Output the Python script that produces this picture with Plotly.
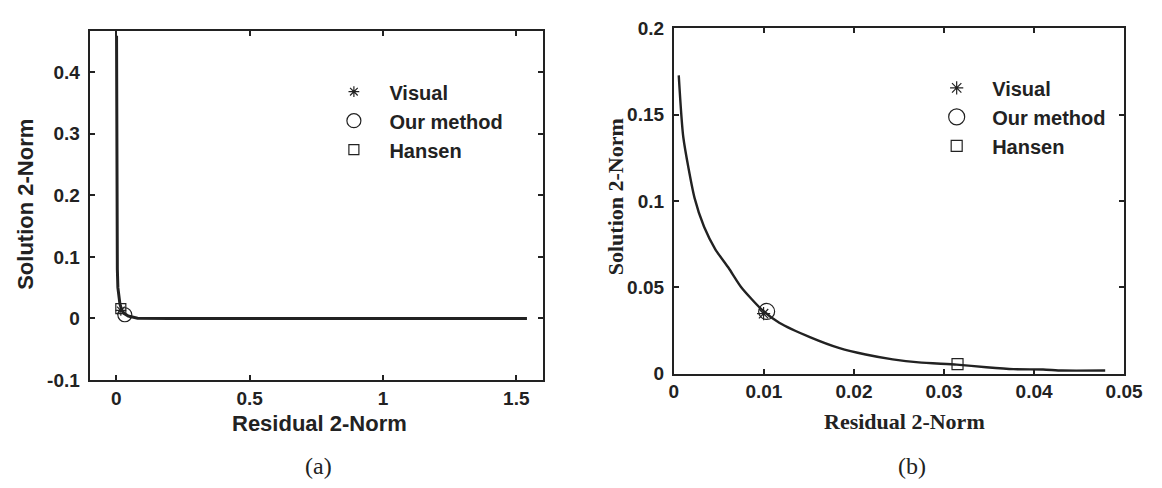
import plotly.graph_objects as go

W, H = 1162, 488

# ---------------- data: panel (a) ----------------
a_curve_x = [0.001, 0.0012, 0.0016, 0.0025, 0.004, 0.006, 0.009, 0.0135, 0.02, 0.03, 0.045, 0.06, 0.08, 0.2, 0.5, 1.0, 1.54]
a_curve_y = [0.459, 0.30, 0.20, 0.12, 0.08, 0.05, 0.035, 0.024, 0.014, 0.008, 0.004, 0.002, 0.0005, 0.0, 0.0, 0.0, 0.0]
a_visual = (0.017, 0.013)
a_ours = (0.032, 0.006)
a_hansen = (0.017, 0.016)
a_xticks = [0, 0.5, 1, 1.5]
a_xticktext = ["0", "0.5", "1", "1.5"]
a_yticks = [-0.1, 0, 0.1, 0.2, 0.3, 0.4]
a_yticktext = ["-0.1", "0", "0.1", "0.2", "0.3", "0.4"]

# ---------------- data: panel (b) ----------------
b_curve_x = [0.00054, 0.00105, 0.0023, 0.00335, 0.0046, 0.0061, 0.0075, 0.0098, 0.0117, 0.0151,
             0.0184, 0.0213, 0.0243, 0.0272, 0.0314, 0.0347, 0.0377, 0.041, 0.0431, 0.0479]
b_curve_y = [0.1727, 0.1367, 0.1016, 0.085, 0.072, 0.061, 0.0499, 0.0369, 0.0295, 0.0212,
             0.0148, 0.0111, 0.0083, 0.0065, 0.0052, 0.0037, 0.0026, 0.0024, 0.0018, 0.0018]
b_visual = (0.00996, 0.0347)
b_ours = (0.0103, 0.036)
b_hansen = (0.0315, 0.0055)
b_xticks = [0, 0.01, 0.02, 0.03, 0.04, 0.05]
b_xticktext = ["0", "0.01", "0.02", "0.03", "0.04", "0.05"]
b_yticks = [0, 0.05, 0.1, 0.15, 0.2]
b_yticktext = ["0", "0.05", "0.1", "0.15", "0.2"]

legend_names = ["Visual", "Our method", "Hansen"]

INK = "#222222"
SANS = "Liberation Sans"
SERIF = "Liberation Serif"


def px(x):
    return x / W


def py(y):
    return 1 - y / H


fig = go.Figure()

# panel (a)
fig.add_trace(go.Scatter(x=a_curve_x, y=a_curve_y, mode="lines", line=dict(color=INK, width=3),
                         showlegend=False, xaxis="x", yaxis="y", hoverinfo="skip"))
marker_specs = [
    ("asterisk-open", 9, 11),
    ("circle-open", 14, 16),
    ("square-open", 10, 11),
]
a_pts = [a_visual, a_ours, a_hansen]
b_pts = [b_visual, b_ours, b_hansen]
for (sym, sa, sb), name, p in zip(marker_specs, legend_names, a_pts):
    fig.add_trace(go.Scatter(x=[p[0]], y=[p[1]], mode="markers", name=name,
                             marker=dict(symbol=sym, size=sa, color=INK, line=dict(color=INK, width=1.2)),
                             xaxis="x", yaxis="y", legend="legend", legendgroup="a" + name))
# panel (b)
fig.add_trace(go.Scatter(x=b_curve_x, y=b_curve_y, mode="lines", line=dict(color=INK, width=2.4, shape="spline", smoothing=0.6),
                         showlegend=False, xaxis="x2", yaxis="y2", hoverinfo="skip"))
for (sym, sa, sb), name, p in zip(marker_specs, legend_names, b_pts):
    fig.add_trace(go.Scatter(x=[p[0]], y=[p[1]], mode="markers", name=name,
                             marker=dict(symbol=sym, size=sb, color=INK, line=dict(color=INK, width=1.2)),
                             xaxis="x2", yaxis="y2", legend="legend2", legendgroup="b" + name))

axis_common = dict(showline=True, linecolor=INK, linewidth=2, mirror="ticks", ticks="inside",
                   ticklen=5, tickwidth=1.5, tickcolor=INK, showgrid=False, zeroline=False,
                   tickfont=dict(family=SANS, size=19, color=INK, weight="bold"), tickmode="array")

fig.update_layout(
    width=W, height=H,
    margin=dict(l=0, r=0, t=0, b=0),
    paper_bgcolor="white", plot_bgcolor="white",
    xaxis=dict(domain=[px(86.4), px(549.3)], range=[-0.1, 1.6], anchor="y",
               tickvals=a_xticks, ticktext=a_xticktext, **axis_common),
    yaxis=dict(domain=[py(386.7), py(21.7)], range=[-0.1, 0.467], anchor="x",
               tickvals=a_yticks, ticktext=a_yticktext, ticklabelstandoff=4, **axis_common),
    xaxis2=dict(domain=[px(683), px(1142.7)], range=[0, 0.05], anchor="y2",
                tickvals=b_xticks, ticktext=b_xticktext, **axis_common),
    yaxis2=dict(domain=[py(380), py(19)], range=[0, 0.2], anchor="x2",
                tickvals=b_yticks, ticktext=b_yticktext, ticklabelstandoff=4, **axis_common),
    legend=dict(x=px(356 - 36), y=py(65), xanchor="left", yanchor="top", itemwidth=61,
                font=dict(family=SANS, size=20, color=INK, weight="bold"), bgcolor="rgba(0,0,0,0)",
                traceorder="normal", tracegroupgap=2),
    legend2=dict(x=px(971.5 - 36), y=py(61), xanchor="left", yanchor="top", itemwidth=61,
                 font=dict(family=SANS, size=20, color=INK, weight="bold"), bgcolor="rgba(0,0,0,0)",
                 traceorder="normal", tracegroupgap=2),
    showlegend=True,
)

annotations = [
    dict(text="Residual 2-Norm", x=px(321), y=py(432), font=dict(family=SANS, size=22, color=INK, weight="bold")),
    dict(text="Solution 2-Norm", x=px(21), y=py(203), textangle=-90, font=dict(family=SANS, size=22, color=INK, weight="bold")),
    dict(text="Residual 2-Norm", x=px(918.5), y=py(430), font=dict(family=SERIF, size=22, color=INK, weight="bold")),
    dict(text="Solution 2-Norm", x=px(623.5), y=py(195), textangle=-90, font=dict(family=SERIF, size=22, color=INK, weight="bold")),
    dict(text="(a)", x=px(320), y=py(476), font=dict(family=SERIF, size=24, color=INK)),
    dict(text="(b)", x=px(926.5), y=py(476), font=dict(family=SERIF, size=24, color=INK)),
]
for a in annotations:
    a.update(xref="paper", yref="paper", showarrow=False, xanchor="center", yanchor="middle")
fig.update_layout(annotations=annotations)

fig.write_html("out.html")
